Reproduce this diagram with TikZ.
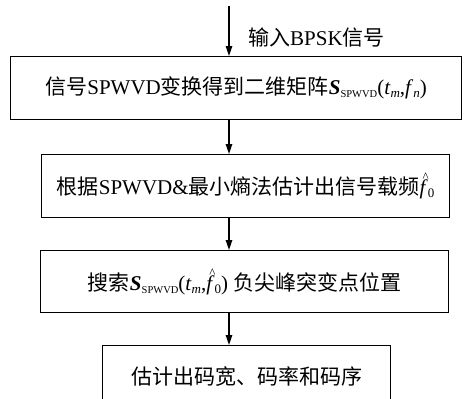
\documentclass[tikz,border=0pt]{standalone}
\usepackage{fontspec}
\setmainfont{Liberation Serif}
\newfontfamily\cjk{Noto Sans CJK SC}
\usetikzlibrary{arrows.meta}
\newcommand{\zh}[1]{{\cjk #1}}
\newcommand{\Ssp}{\textbf{\textit{S}}\raisebox{-3pt}{\fontsize{10.5}{11}\selectfont SPWVD}}
\newcommand{\tm}{\textit{t}\raisebox{-3pt}{\fontsize{13}{13}\selectfont\textit{m}}}
\newcommand{\fn}{\textit{f}\raisebox{-3pt}{\fontsize{13}{13}\selectfont\textit{n}}}
\newcommand{\fz}{\makebox[0pt][l]{\raisebox{13pt}{\kern3pt\fontsize{13}{13}\selectfont\textasciicircum}}\textit{f}\raisebox{-3pt}{\fontsize{13}{13}\selectfont 0}}
\begin{document}
\begin{tikzpicture}[x=1pt,y=-1pt,
  box/.style={draw, line width=1.3pt, inner sep=0pt, anchor=north west, font=\rmfamily\fontsize{21}{25}\selectfont},
  arr/.style={line width=1.3pt, -{Triangle[length=10pt,width=6.5pt]}},
  lab/.style={anchor=west, inner sep=0pt, font=\rmfamily\fontsize{21}{25}\selectfont}]
\useasboundingbox (0,0) rectangle (469,399);
\clip (0,0) rectangle (469,399);
\coordinate (start) at (229,6);
\node[box, minimum width=451pt, minimum height=63pt] (b1) at (10,56)
  {\zh{信号}SPWVD\zh{变换得到二维矩阵}\Ssp(\tm,\fn)};
\node[box, minimum width=408pt, minimum height=63pt] (b2) at (41,154)
  {\zh{根据}SPWVD\&\zh{最小熵法估计出信号载频}\fz};
\node[box, minimum width=408pt, minimum height=62pt] (b3) at (40,250)
  {\zh{搜索}\Ssp(\tm,\fz) \zh{负尖峰突变点位置}};
\node[box, minimum width=288pt, minimum height=62pt] (b4) at (102,345)
  {\zh{估计出码宽、码率和码序}};
\node[lab] (lbl) at (248,38) {\zh{输入}BPSK\zh{信号}};
\draw[arr] (start) -- (start |- b1.north);
\draw[arr] (b1.south -| start) -- (b2.north -| start);
\draw[arr] (b2.south -| start) -- (b3.north -| start);
\draw[arr] (b3.south -| start) -- (b4.north -| start);
\end{tikzpicture}
\end{document}
